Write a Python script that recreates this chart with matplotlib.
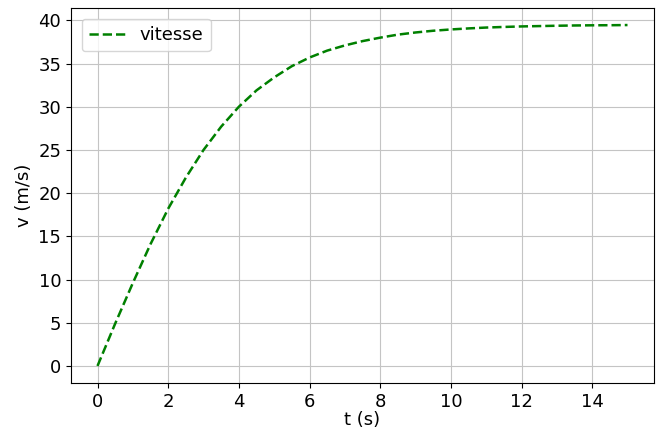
import matplotlib
matplotlib.use("Agg")
import matplotlib.pyplot as plt

# vitesse lue sur le graphique, pas de 0.5 s
t = [0, 0.5, 1, 1.5, 2, 2.5, 3, 3.5, 4, 4.5, 5, 5.5, 6, 6.5, 7, 7.5,
     8, 8.5, 9, 9.5, 10, 10.5, 11, 11.5, 12, 12.5, 13, 13.5, 14, 14.5, 15]
v = [0, 4.9, 9.6, 14.1, 18.2, 21.8, 25.0, 27.7, 30.0, 31.9, 33.4, 34.7,
     35.7, 36.5, 37.1, 37.6, 38.0, 38.35, 38.6, 38.8, 38.95, 39.07, 39.17,
     39.24, 39.3, 39.34, 39.38, 39.41, 39.43, 39.44, 39.46]

plt.rcParams["font.size"] = 13

fig = plt.figure(figsize=(6.59, 4.32), dpi=100)
ax = fig.add_axes([71 / 659, 49 / 432, 583 / 659, 375 / 432])
ax.plot(t, v, "g--", lw=1.8, label="vitesse")
ax.set_xlabel("t (s)", labelpad=0.5)
ax.set_ylabel("v (m/s)")
ax.set_xticks(range(0, 15, 2))
ax.set_yticks(range(0, 41, 5))
ax.grid(True, color="#c4c4c4")
ax.legend(loc="upper left", borderaxespad=0.6)

fig.savefig("out.png")
